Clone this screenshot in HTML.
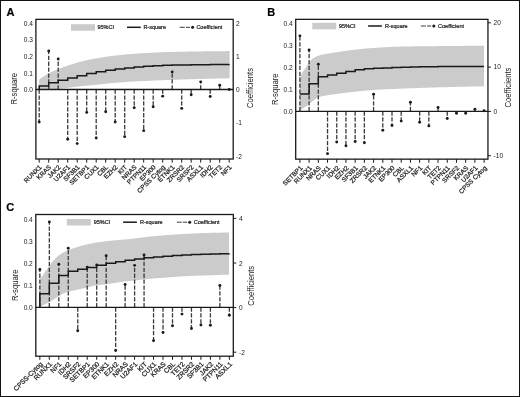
<!DOCTYPE html>
<html><head><meta charset="utf-8"><style>
html,body{margin:0;padding:0;background:#fff;}
svg{display:block;will-change:transform;}
text{font-family:"Liberation Sans", sans-serif;stroke:#222;stroke-width:0.22px;}
.t{stroke:none;}
.g{stroke:#222;stroke-width:0.24px;}
</style></head><body>
<svg width="520" height="397" viewBox="0 0 520 397" font-family='&quot;Liberation Sans&quot;, sans-serif'>
<rect x="0" y="0" width="520" height="397" fill="#fff"/>
<path d="M39.2,79.5 L39.69,79.17 L40.18,78.84 L40.66,78.5 L41.15,78.16 L41.64,77.82 L42.13,77.48 L42.62,77.14 L43.11,76.8 L43.59,76.46 L44.08,76.12 L44.57,75.79 L45.06,75.47 L45.55,75.16 L46.04,74.85 L46.52,74.56 L47.01,74.27 L47.5,74 L48,73.73 L48.5,73.47 L49,73.21 L49.5,72.96 L50,72.71 L50.5,72.46 L51,72.22 L51.5,71.99 L52,71.75 L52.5,71.53 L53,71.3 L53.5,71.08 L54,70.86 L54.5,70.65 L55,70.43 L55.5,70.22 L56,70.01 L56.5,69.81 L57,69.6 L57.5,69.4 L58,69.2 L58.5,69 L59,68.8 L59.5,68.6 L60.01,68.4 L60.51,68.21 L61.02,68.02 L61.52,67.83 L62.03,67.64 L62.53,67.45 L63.03,67.27 L63.54,67.09 L64.04,66.91 L64.55,66.73 L65.05,66.55 L65.56,66.38 L66.06,66.2 L66.57,66.03 L67.07,65.86 L67.57,65.69 L68.08,65.52 L68.58,65.36 L69.09,65.19 L69.59,65.03 L70.1,64.86 L70.6,64.7 L71.1,64.54 L71.6,64.38 L72.1,64.22 L72.6,64.06 L73.1,63.9 L73.6,63.74 L74.1,63.58 L74.6,63.43 L75.1,63.27 L75.6,63.12 L76.1,62.97 L76.6,62.82 L77.1,62.67 L77.6,62.52 L78.1,62.37 L78.6,62.23 L79.1,62.09 L79.6,61.95 L80.1,61.82 L80.6,61.68 L81.1,61.55 L81.6,61.42 L82.1,61.3 L82.6,61.18 L83.09,61.06 L83.59,60.94 L84.09,60.82 L84.58,60.71 L85.08,60.59 L85.57,60.48 L86.07,60.37 L86.57,60.26 L87.06,60.15 L87.56,60.04 L88.06,59.93 L88.55,59.83 L89.05,59.73 L89.55,59.62 L90.04,59.52 L90.54,59.42 L91.04,59.32 L91.53,59.23 L92.03,59.13 L92.53,59.03 L93.02,58.94 L93.52,58.85 L94.01,58.76 L94.51,58.66 L95.01,58.58 L95.5,58.49 L96,58.4 L96.5,58.31 L97,58.23 L97.5,58.14 L98,58.06 L98.5,57.97 L99,57.89 L99.5,57.8 L100,57.72 L100.5,57.64 L101,57.56 L101.5,57.47 L102,57.39 L102.5,57.31 L103,57.23 L103.5,57.16 L104,57.08 L104.5,57 L105,56.93 L105.5,56.85 L106,56.78 L106.5,56.7 L107,56.63 L107.5,56.56 L108,56.49 L108.5,56.42 L109,56.35 L109.5,56.28 L110,56.21 L110.5,56.15 L111,56.08 L111.5,56.02 L112,55.96 L112.5,55.89 L113,55.83 L113.5,55.77 L114,55.71 L114.5,55.66 L115,55.6 L115.5,55.54 L116,55.49 L116.5,55.43 L117,55.38 L117.5,55.33 L118,55.27 L118.5,55.22 L119,55.17 L119.5,55.12 L120,55.06 L120.5,55.01 L121,54.96 L121.5,54.91 L122,54.86 L122.5,54.81 L123,54.76 L123.5,54.71 L124,54.67 L124.5,54.62 L125,54.57 L125.5,54.53 L126,54.48 L126.5,54.43 L127,54.39 L127.5,54.34 L128,54.3 L128.5,54.26 L129,54.21 L129.5,54.17 L130,54.13 L130.5,54.09 L131,54.05 L131.5,54.01 L132,53.97 L132.5,53.93 L133,53.89 L133.5,53.85 L134,53.81 L134.5,53.77 L135,53.74 L135.5,53.7 L136,53.66 L136.5,53.63 L137,53.6 L137.5,53.56 L138,53.53 L138.5,53.49 L139,53.46 L139.5,53.43 L140,53.4 L140.5,53.37 L141,53.34 L141.5,53.31 L142,53.28 L142.5,53.25 L143,53.22 L143.5,53.19 L144,53.16 L144.5,53.13 L145,53.1 L145.5,53.07 L146,53.04 L146.5,53.02 L147,52.99 L147.5,52.96 L148,52.93 L148.5,52.91 L149,52.88 L149.5,52.85 L150,52.83 L150.5,52.8 L151,52.77 L151.5,52.75 L152,52.72 L152.5,52.7 L153,52.67 L153.5,52.65 L154,52.62 L154.5,52.6 L155,52.57 L155.5,52.55 L156,52.53 L156.5,52.5 L157,52.48 L157.5,52.46 L158,52.44 L158.5,52.41 L159,52.39 L159.5,52.37 L160,52.35 L160.5,52.33 L161,52.31 L161.5,52.29 L162,52.27 L162.5,52.25 L163,52.23 L163.5,52.21 L164,52.19 L164.5,52.18 L165,52.16 L165.5,52.14 L166,52.12 L166.5,52.11 L167,52.09 L167.5,52.07 L168,52.06 L168.5,52.04 L169,52.03 L169.5,52.01 L170,52 L170.5,51.99 L171,51.97 L171.5,51.96 L172,51.95 L172.5,51.93 L173,51.92 L173.5,51.91 L174,51.89 L174.5,51.88 L175,51.87 L175.5,51.86 L176,51.84 L176.5,51.83 L177,51.82 L177.5,51.81 L178,51.8 L178.5,51.78 L179,51.77 L179.5,51.76 L180,51.75 L180.5,51.74 L181,51.73 L181.5,51.72 L182,51.71 L182.5,51.7 L183,51.69 L183.5,51.68 L184,51.67 L184.5,51.66 L185,51.65 L185.5,51.64 L186,51.63 L186.5,51.62 L187,51.61 L187.5,51.6 L188,51.59 L188.5,51.58 L189,51.57 L189.5,51.56 L190,51.55 L190.5,51.54 L191,51.54 L191.5,51.53 L192,51.52 L192.5,51.51 L193,51.5 L193.5,51.5 L194,51.49 L194.5,51.48 L195,51.47 L195.5,51.46 L196,51.46 L196.5,51.45 L197,51.44 L197.5,51.43 L198,51.43 L198.5,51.42 L199,51.41 L199.5,51.41 L200,51.4 L200.5,51.39 L201,51.39 L201.51,51.38 L202.01,51.37 L202.51,51.37 L203.01,51.36 L203.51,51.36 L204.01,51.35 L204.52,51.34 L205.02,51.34 L205.52,51.33 L206.02,51.33 L206.52,51.32 L207.02,51.32 L207.53,51.31 L208.03,51.3 L208.53,51.3 L209.03,51.29 L209.53,51.29 L210.03,51.28 L210.54,51.28 L211.04,51.27 L211.54,51.27 L212.04,51.26 L212.54,51.26 L213.04,51.25 L213.55,51.25 L214.05,51.24 L214.55,51.24 L215.05,51.24 L215.55,51.23 L216.05,51.23 L216.56,51.22 L217.06,51.22 L217.56,51.21 L218.06,51.21 L218.56,51.2 L219.06,51.2 L219.57,51.19 L220.07,51.19 L220.57,51.19 L221.07,51.18 L221.57,51.18 L222.07,51.17 L222.58,51.17 L223.08,51.16 L223.58,51.16 L224.08,51.15 L224.58,51.15 L225.08,51.14 L225.59,51.14 L226.09,51.13 L226.59,51.13 L227.09,51.12 L227.59,51.12 L228.09,51.12 L228.6,51.11 L229.1,51.11 L229.6,51.1 L229.6,78.3 L229.1,78.31 L228.6,78.32 L228.1,78.33 L227.59,78.35 L227.09,78.36 L226.59,78.37 L226.09,78.38 L225.59,78.39 L225.09,78.4 L224.59,78.41 L224.08,78.42 L223.58,78.44 L223.08,78.45 L222.58,78.46 L222.08,78.47 L221.58,78.48 L221.08,78.49 L220.57,78.5 L220.07,78.51 L219.57,78.52 L219.07,78.53 L218.57,78.54 L218.07,78.56 L217.57,78.57 L217.06,78.58 L216.56,78.59 L216.06,78.6 L215.56,78.61 L215.06,78.62 L214.56,78.63 L214.06,78.64 L213.55,78.65 L213.05,78.66 L212.55,78.68 L212.05,78.69 L211.55,78.7 L211.05,78.71 L210.54,78.72 L210.04,78.73 L209.54,78.74 L209.04,78.75 L208.54,78.76 L208.04,78.78 L207.54,78.79 L207.03,78.8 L206.53,78.81 L206.03,78.82 L205.53,78.83 L205.03,78.85 L204.53,78.86 L204.03,78.87 L203.52,78.88 L203.02,78.89 L202.52,78.91 L202.02,78.92 L201.52,78.93 L201.02,78.94 L200.52,78.95 L200.01,78.97 L199.51,78.98 L199.01,78.99 L198.51,79.01 L198.01,79.02 L197.51,79.03 L197.01,79.05 L196.5,79.06 L196,79.07 L195.5,79.09 L195,79.1 L194.5,79.11 L194,79.13 L193.5,79.14 L193,79.16 L192.5,79.17 L192,79.18 L191.5,79.2 L191,79.21 L190.5,79.23 L190,79.24 L189.5,79.26 L189,79.27 L188.5,79.29 L188,79.3 L187.5,79.32 L187,79.34 L186.5,79.35 L186,79.37 L185.5,79.38 L185,79.4 L184.5,79.41 L184,79.43 L183.5,79.45 L183,79.46 L182.5,79.48 L182,79.5 L181.5,79.51 L181,79.53 L180.5,79.55 L180,79.56 L179.5,79.58 L179,79.6 L178.5,79.61 L178,79.63 L177.5,79.65 L177,79.67 L176.5,79.68 L176,79.7 L175.5,79.72 L175,79.74 L174.5,79.75 L174,79.77 L173.5,79.79 L173,79.81 L172.5,79.83 L172,79.84 L171.5,79.86 L171,79.88 L170.5,79.9 L170,79.92 L169.5,79.94 L169,79.95 L168.5,79.97 L168,79.99 L167.5,80.01 L167,80.03 L166.5,80.05 L166,80.07 L165.5,80.09 L165,80.11 L164.5,80.12 L164,80.14 L163.5,80.16 L163,80.18 L162.5,80.2 L162,80.22 L161.5,80.24 L161,80.26 L160.5,80.28 L160,80.3 L159.5,80.32 L159,80.34 L158.5,80.36 L158,80.38 L157.5,80.4 L157,80.42 L156.5,80.44 L156,80.46 L155.5,80.48 L155,80.5 L154.5,80.52 L154,80.54 L153.5,80.56 L153,80.59 L152.5,80.61 L152,80.63 L151.5,80.65 L151,80.67 L150.5,80.69 L150,80.72 L149.5,80.74 L149,80.76 L148.5,80.78 L148,80.81 L147.5,80.83 L147,80.85 L146.5,80.88 L146,80.9 L145.5,80.92 L145,80.95 L144.5,80.97 L144,81 L143.5,81.02 L143,81.05 L142.5,81.07 L142,81.1 L141.5,81.12 L141,81.15 L140.5,81.17 L140,81.2 L139.5,81.23 L139,81.25 L138.49,81.28 L137.99,81.31 L137.49,81.34 L136.99,81.36 L136.48,81.39 L135.98,81.42 L135.48,81.45 L134.98,81.48 L134.48,81.51 L133.97,81.54 L133.47,81.57 L132.97,81.59 L132.47,81.62 L131.97,81.66 L131.46,81.69 L130.96,81.72 L130.46,81.75 L129.96,81.78 L129.45,81.81 L128.95,81.84 L128.45,81.87 L127.95,81.91 L127.45,81.94 L126.94,81.97 L126.44,82.01 L125.94,82.04 L125.44,82.07 L124.93,82.11 L124.43,82.14 L123.93,82.18 L123.43,82.21 L122.93,82.25 L122.42,82.28 L121.92,82.32 L121.42,82.36 L120.92,82.39 L120.42,82.43 L119.91,82.47 L119.41,82.51 L118.91,82.54 L118.41,82.58 L117.9,82.62 L117.4,82.66 L116.9,82.7 L116.39,82.74 L115.89,82.78 L115.38,82.82 L114.88,82.87 L114.37,82.91 L113.87,82.96 L113.36,83 L112.86,83.05 L112.35,83.1 L111.85,83.15 L111.34,83.19 L110.84,83.24 L110.33,83.29 L109.83,83.34 L109.32,83.39 L108.82,83.45 L108.31,83.5 L107.81,83.55 L107.3,83.6 L106.79,83.65 L106.29,83.71 L105.78,83.76 L105.28,83.81 L104.77,83.87 L104.27,83.92 L103.76,83.97 L103.26,84.03 L102.75,84.08 L102.25,84.13 L101.74,84.19 L101.24,84.24 L100.73,84.29 L100.23,84.34 L99.72,84.4 L99.22,84.45 L98.71,84.5 L98.21,84.55 L97.7,84.6 L97.19,84.65 L96.69,84.7 L96.18,84.75 L95.68,84.8 L95.17,84.85 L94.67,84.89 L94.16,84.94 L93.66,84.99 L93.15,85.04 L92.65,85.09 L92.14,85.14 L91.64,85.18 L91.13,85.23 L90.63,85.28 L90.12,85.33 L89.62,85.38 L89.11,85.42 L88.61,85.47 L88.1,85.52 L87.59,85.57 L87.09,85.62 L86.58,85.67 L86.08,85.71 L85.57,85.76 L85.07,85.81 L84.56,85.86 L84.06,85.91 L83.55,85.97 L83.05,86.02 L82.54,86.07 L82.04,86.12 L81.53,86.17 L81.03,86.23 L80.52,86.28 L80.02,86.33 L79.51,86.39 L79.01,86.44 L78.5,86.5 L78,86.56 L77.5,86.62 L77,86.68 L76.5,86.74 L76,86.8 L75.5,86.87 L75,86.93 L74.5,87 L74,87.07 L73.5,87.14 L73,87.2 L72.5,87.27 L72,87.34 L71.5,87.41 L71,87.48 L70.5,87.54 L70,87.61 L69.5,87.68 L69,87.74 L68.5,87.81 L68,87.87 L67.5,87.93 L67,87.99 L66.5,88.04 L66,88.1 L65.5,88.15 L65,88.2 L64.5,88.25 L64,88.3 L63.5,88.35 L63,88.4 L62.5,88.45 L62,88.5 L61.5,88.55 L61,88.6 L60.5,88.65 L60,88.69 L59.5,88.74 L59,88.78 L58.5,88.82 L58,88.85 L57.5,88.89 L57,88.92 L56.5,88.94 L56,88.97 L55.5,88.99 L55,89 L54.51,89.01 L54.01,89.02 L53.52,89.03 L53.02,89.04 L52.53,89.05 L52.04,89.06 L51.54,89.07 L51.05,89.07 L50.56,89.08 L50.06,89.09 L49.57,89.09 L49.08,89.1 L48.58,89.1 L48.09,89.11 L47.59,89.12 L47.1,89.12 L46.61,89.13 L46.11,89.13 L45.62,89.13 L45.12,89.14 L44.63,89.14 L44.14,89.15 L43.64,89.15 L43.15,89.16 L42.66,89.16 L42.16,89.17 L41.67,89.17 L41.18,89.18 L40.68,89.18 L40.19,89.19 L39.69,89.19 L39.2,89.2 Z" fill="#cbcbcb"/>
<line x1="39.2" y1="89.5" x2="39.2" y2="122.04" stroke="#3a3a3a" stroke-width="1.3" stroke-dasharray="4.3,1.6"/>
<line x1="48.7" y1="89.5" x2="48.7" y2="50.99" stroke="#3a3a3a" stroke-width="1.3" stroke-dasharray="4.3,1.6"/>
<line x1="58.2" y1="89.5" x2="58.2" y2="58.96" stroke="#3a3a3a" stroke-width="1.3" stroke-dasharray="4.3,1.6"/>
<line x1="67.7" y1="89.5" x2="67.7" y2="139.3" stroke="#3a3a3a" stroke-width="1.3" stroke-dasharray="4.3,1.6"/>
<line x1="77.2" y1="89.5" x2="77.2" y2="143.62" stroke="#3a3a3a" stroke-width="1.3" stroke-dasharray="4.3,1.6"/>
<line x1="86.7" y1="89.5" x2="86.7" y2="112.41" stroke="#3a3a3a" stroke-width="1.3" stroke-dasharray="4.3,1.6"/>
<line x1="96.2" y1="89.5" x2="96.2" y2="137.97" stroke="#3a3a3a" stroke-width="1.3" stroke-dasharray="4.3,1.6"/>
<line x1="105.7" y1="89.5" x2="105.7" y2="111.74" stroke="#3a3a3a" stroke-width="1.3" stroke-dasharray="4.3,1.6"/>
<line x1="115.2" y1="89.5" x2="115.2" y2="122.04" stroke="#3a3a3a" stroke-width="1.3" stroke-dasharray="4.3,1.6"/>
<line x1="124.7" y1="89.5" x2="124.7" y2="136.64" stroke="#3a3a3a" stroke-width="1.3" stroke-dasharray="4.3,1.6"/>
<line x1="134.2" y1="89.5" x2="134.2" y2="107.76" stroke="#3a3a3a" stroke-width="1.3" stroke-dasharray="4.3,1.6"/>
<line x1="143.7" y1="89.5" x2="143.7" y2="130.67" stroke="#3a3a3a" stroke-width="1.3" stroke-dasharray="4.3,1.6"/>
<line x1="153.2" y1="89.5" x2="153.2" y2="106.76" stroke="#3a3a3a" stroke-width="1.3" stroke-dasharray="4.3,1.6"/>
<line x1="162.7" y1="89.5" x2="162.7" y2="96.14" stroke="#3a3a3a" stroke-width="1.3" stroke-dasharray="4.3,1.6"/>
<line x1="172.2" y1="89.5" x2="172.2" y2="71.9" stroke="#3a3a3a" stroke-width="1.3" stroke-dasharray="4.3,1.6"/>
<line x1="181.7" y1="89.5" x2="181.7" y2="108.42" stroke="#3a3a3a" stroke-width="1.3" stroke-dasharray="4.3,1.6"/>
<line x1="191.2" y1="89.5" x2="191.2" y2="94.81" stroke="#3a3a3a" stroke-width="1.3" stroke-dasharray="4.3,1.6"/>
<line x1="200.7" y1="89.5" x2="200.7" y2="81.86" stroke="#3a3a3a" stroke-width="1.3" stroke-dasharray="4.3,1.6"/>
<line x1="210.2" y1="89.5" x2="210.2" y2="96.47" stroke="#3a3a3a" stroke-width="1.3" stroke-dasharray="4.3,1.6"/>
<line x1="219.7" y1="89.5" x2="219.7" y2="85.18" stroke="#3a3a3a" stroke-width="1.3" stroke-dasharray="4.3,1.6"/>
<line x1="229.2" y1="89.5" x2="229.2" y2="89.5" stroke="#3a3a3a" stroke-width="1.3" stroke-dasharray="4.3,1.6"/>
<circle cx="39.2" cy="122.04" r="1.45" fill="#1a1a1a"/>
<circle cx="48.7" cy="50.99" r="1.45" fill="#1a1a1a"/>
<circle cx="58.2" cy="58.96" r="1.45" fill="#1a1a1a"/>
<circle cx="67.7" cy="139.3" r="1.45" fill="#1a1a1a"/>
<circle cx="77.2" cy="143.62" r="1.45" fill="#1a1a1a"/>
<circle cx="86.7" cy="112.41" r="1.45" fill="#1a1a1a"/>
<circle cx="96.2" cy="137.97" r="1.45" fill="#1a1a1a"/>
<circle cx="105.7" cy="111.74" r="1.45" fill="#1a1a1a"/>
<circle cx="115.2" cy="122.04" r="1.45" fill="#1a1a1a"/>
<circle cx="124.7" cy="136.64" r="1.45" fill="#1a1a1a"/>
<circle cx="134.2" cy="107.76" r="1.45" fill="#1a1a1a"/>
<circle cx="143.7" cy="130.67" r="1.45" fill="#1a1a1a"/>
<circle cx="153.2" cy="106.76" r="1.45" fill="#1a1a1a"/>
<circle cx="162.7" cy="96.14" r="1.45" fill="#1a1a1a"/>
<circle cx="172.2" cy="71.9" r="1.45" fill="#1a1a1a"/>
<circle cx="181.7" cy="108.42" r="1.45" fill="#1a1a1a"/>
<circle cx="191.2" cy="94.81" r="1.45" fill="#1a1a1a"/>
<circle cx="200.7" cy="81.86" r="1.45" fill="#1a1a1a"/>
<circle cx="210.2" cy="96.47" r="1.45" fill="#1a1a1a"/>
<circle cx="219.7" cy="85.18" r="1.45" fill="#1a1a1a"/>
<circle cx="229.2" cy="89.5" r="1.45" fill="#1a1a1a"/>
<line x1="35.9" y1="89.5" x2="233.2" y2="89.5" stroke="#1a1a1a" stroke-width="1.3"/>
<path d="M39.2,89.5 L39.2,85.9 L48.7,85.9 L48.7,82.7 L58.2,82.7 L58.2,80.3 L67.7,80.3 L67.7,77.95 L77.2,77.95 L77.2,75.75 L86.7,75.75 L86.7,73.4 L96.2,73.4 L96.2,71.7 L105.7,71.7 L105.7,70.2 L115.2,70.2 L115.2,68.9 L124.7,68.9 L124.7,67.9 L134.2,67.9 L134.2,67 L143.7,67 L143.7,66.3 L153.2,66.3 L153.2,65.7 L162.7,65.7 L162.7,65.2 L172.2,65.2 L172.2,65 L181.7,65 L181.7,64.9 L191.2,64.9 L191.2,64.8 L200.7,64.8 L200.7,64.7 L210.2,64.7 L210.2,64.6 L219.7,64.6 L219.7,64.6 L229.2,64.6 L229.2,64.5 L229.2,64.5" fill="none" stroke="#1a1a1a" stroke-width="1.5" stroke-linejoin="miter" stroke-linecap="butt"/>
<rect x="35.9" y="19.35" width="197.3" height="139.65" fill="none" stroke="#1a1a1a" stroke-width="1.3"/>
<line x1="39.2" y1="159" x2="39.2" y2="162.6" stroke="#1a1a1a" stroke-width="1"/>
<line x1="48.7" y1="159" x2="48.7" y2="162.6" stroke="#1a1a1a" stroke-width="1"/>
<line x1="58.2" y1="159" x2="58.2" y2="162.6" stroke="#1a1a1a" stroke-width="1"/>
<line x1="67.7" y1="159" x2="67.7" y2="162.6" stroke="#1a1a1a" stroke-width="1"/>
<line x1="77.2" y1="159" x2="77.2" y2="162.6" stroke="#1a1a1a" stroke-width="1"/>
<line x1="86.7" y1="159" x2="86.7" y2="162.6" stroke="#1a1a1a" stroke-width="1"/>
<line x1="96.2" y1="159" x2="96.2" y2="162.6" stroke="#1a1a1a" stroke-width="1"/>
<line x1="105.7" y1="159" x2="105.7" y2="162.6" stroke="#1a1a1a" stroke-width="1"/>
<line x1="115.2" y1="159" x2="115.2" y2="162.6" stroke="#1a1a1a" stroke-width="1"/>
<line x1="124.7" y1="159" x2="124.7" y2="162.6" stroke="#1a1a1a" stroke-width="1"/>
<line x1="134.2" y1="159" x2="134.2" y2="162.6" stroke="#1a1a1a" stroke-width="1"/>
<line x1="143.7" y1="159" x2="143.7" y2="162.6" stroke="#1a1a1a" stroke-width="1"/>
<line x1="153.2" y1="159" x2="153.2" y2="162.6" stroke="#1a1a1a" stroke-width="1"/>
<line x1="162.7" y1="159" x2="162.7" y2="162.6" stroke="#1a1a1a" stroke-width="1"/>
<line x1="172.2" y1="159" x2="172.2" y2="162.6" stroke="#1a1a1a" stroke-width="1"/>
<line x1="181.7" y1="159" x2="181.7" y2="162.6" stroke="#1a1a1a" stroke-width="1"/>
<line x1="191.2" y1="159" x2="191.2" y2="162.6" stroke="#1a1a1a" stroke-width="1"/>
<line x1="200.7" y1="159" x2="200.7" y2="162.6" stroke="#1a1a1a" stroke-width="1"/>
<line x1="210.2" y1="159" x2="210.2" y2="162.6" stroke="#1a1a1a" stroke-width="1"/>
<line x1="219.7" y1="159" x2="219.7" y2="162.6" stroke="#1a1a1a" stroke-width="1"/>
<line x1="229.2" y1="159" x2="229.2" y2="162.6" stroke="#1a1a1a" stroke-width="1"/>
<text x="32.9" y="92.28" font-size="6.6" class="t" text-anchor="end" fill="#222">0.0</text>
<text x="32.9" y="75.68" font-size="6.6" class="t" text-anchor="end" fill="#222">0.1</text>
<text x="32.9" y="59.08" font-size="6.6" class="t" text-anchor="end" fill="#222">0.2</text>
<text x="32.9" y="42.48" font-size="6.6" class="t" text-anchor="end" fill="#222">0.3</text>
<text x="32.9" y="25.88" font-size="6.6" class="t" text-anchor="end" fill="#222">0.4</text>
<text x="236" y="25.78" font-size="6.6" class="t" fill="#222">2</text>
<text x="236" y="58.98" font-size="6.6" class="t" fill="#222">1</text>
<text x="236" y="92.18" font-size="6.6" class="t" fill="#222">0</text>
<text x="236" y="125.38" font-size="6.6" class="t" fill="#222">-1</text>
<text x="236" y="158.58" font-size="6.6" class="t" fill="#222">-2</text>
<text x="0" y="0" font-size="7.7" text-anchor="middle" class="t" fill="#222" transform="translate(17.2,88.7) rotate(-90) scale(1.0,1.12)">R-square</text>
<text x="0" y="0" font-size="7.7" text-anchor="middle" class="t" fill="#222" transform="translate(253,88) rotate(-90) scale(1.0,1.12)">Coefficients</text>
<text x="6.5" y="15.8" font-size="11" font-weight="bold" fill="#000">A</text>
<rect x="71" y="24.2" width="24" height="6.5" fill="#cbcbcb"/>
<text x="97.5" y="29.28" font-size="5.5" fill="#222">95%CI</text>
<line x1="127" y1="27.3" x2="140.8" y2="27.3" stroke="#1a1a1a" stroke-width="1.5"/>
<text x="143.4" y="29.28" font-size="5.5" fill="#222">R-square</text>
<line x1="179.7" y1="27.3" x2="190" y2="27.3" stroke="#3a3a3a" stroke-width="1" stroke-dasharray="5,1.1"/>
<circle cx="192.6" cy="27.3" r="1.5" fill="#1a1a1a"/>
<text x="196.4" y="29.28" font-size="5.5" fill="#222">Coefficient</text>
<text x="0" y="0" font-size="6.5" class="g" text-anchor="end" fill="#222" transform="translate(42.1,167.6) rotate(-45)">RUNX1</text>
<text x="0" y="0" font-size="6.5" class="g" text-anchor="end" fill="#222" transform="translate(51.6,167.6) rotate(-45)">KRAS</text>
<text x="0" y="0" font-size="6.5" class="g" text-anchor="end" fill="#222" transform="translate(61.1,167.6) rotate(-45)">JAK2</text>
<text x="0" y="0" font-size="6.5" class="g" text-anchor="end" fill="#222" transform="translate(70.6,167.6) rotate(-45)">U2AF1</text>
<text x="0" y="0" font-size="6.5" class="g" text-anchor="end" fill="#222" transform="translate(80.1,167.6) rotate(-45)">SF3B1</text>
<text x="0" y="0" font-size="6.5" class="g" text-anchor="end" fill="#222" transform="translate(89.6,167.6) rotate(-45)">SETBP1</text>
<text x="0" y="0" font-size="6.5" class="g" text-anchor="end" fill="#222" transform="translate(99.1,167.6) rotate(-45)">CUX1</text>
<text x="0" y="0" font-size="6.5" class="g" text-anchor="end" fill="#222" transform="translate(108.6,167.6) rotate(-45)">CBL</text>
<text x="0" y="0" font-size="6.5" class="g" text-anchor="end" fill="#222" transform="translate(118.1,167.6) rotate(-45)">EZH2</text>
<text x="0" y="0" font-size="6.5" class="g" text-anchor="end" fill="#222" transform="translate(127.6,167.6) rotate(-45)">KIT</text>
<text x="0" y="0" font-size="6.5" class="g" text-anchor="end" fill="#222" transform="translate(137.1,167.6) rotate(-45)">NRAS</text>
<text x="0" y="0" font-size="6.5" class="g" text-anchor="end" fill="#222" transform="translate(146.6,167.6) rotate(-45)">PTPN11</text>
<text x="0" y="0" font-size="6.5" class="g" text-anchor="end" fill="#222" transform="translate(156.1,167.6) rotate(-45)">EP300</text>
<text x="0" y="0" font-size="6.5" class="g" text-anchor="end" fill="#222" transform="translate(165.6,167.6) rotate(-45)">CPSS Cytog</text>
<text x="0" y="0" font-size="6.5" class="g" text-anchor="end" fill="#222" transform="translate(175.1,167.6) rotate(-45)">ETNK1</text>
<text x="0" y="0" font-size="6.5" class="g" text-anchor="end" fill="#222" transform="translate(184.6,167.6) rotate(-45)">ZRSR2</text>
<text x="0" y="0" font-size="6.5" class="g" text-anchor="end" fill="#222" transform="translate(194.1,167.6) rotate(-45)">SRSF2</text>
<text x="0" y="0" font-size="6.5" class="g" text-anchor="end" fill="#222" transform="translate(203.6,167.6) rotate(-45)">ASXL1</text>
<text x="0" y="0" font-size="6.5" class="g" text-anchor="end" fill="#222" transform="translate(213.1,167.6) rotate(-45)">IDH2</text>
<text x="0" y="0" font-size="6.5" class="g" text-anchor="end" fill="#222" transform="translate(222.6,167.6) rotate(-45)">TET2</text>
<text x="0" y="0" font-size="6.5" class="g" text-anchor="end" fill="#222" transform="translate(232.1,167.6) rotate(-45)">NF1</text>
<path d="M299.9,77.5 L300.42,76.39 L300.95,75.27 L301.48,74.18 L302,73.2 L302.51,72.35 L303.02,71.56 L303.54,70.82 L304.05,70.1 L304.56,69.4 L305.08,68.7 L305.59,67.97 L306.1,67.2 L306.6,66.39 L307.1,65.53 L307.6,64.65 L308.1,63.8 L308.6,63 L309.1,62.3 L309.6,61.67 L310.1,61.07 L310.6,60.51 L311.1,59.99 L311.6,59.52 L312.1,59.1 L312.61,58.71 L313.12,58.34 L313.64,58 L314.15,57.67 L314.66,57.37 L315.18,57.09 L315.69,56.84 L316.2,56.6 L316.7,56.39 L317.2,56.18 L317.7,55.99 L318.2,55.81 L318.7,55.63 L319.2,55.47 L319.7,55.31 L320.2,55.17 L320.7,55.03 L321.2,54.9 L321.7,54.78 L322.2,54.66 L322.7,54.56 L323.2,54.45 L323.7,54.36 L324.2,54.26 L324.7,54.17 L325.2,54.08 L325.7,53.99 L326.2,53.9 L326.69,53.81 L327.18,53.72 L327.67,53.64 L328.16,53.55 L328.65,53.47 L329.14,53.39 L329.63,53.31 L330.12,53.22 L330.61,53.14 L331.1,53.06 L331.59,52.99 L332.08,52.91 L332.57,52.83 L333.06,52.75 L333.55,52.68 L334.04,52.6 L334.53,52.53 L335.02,52.45 L335.51,52.38 L336,52.3 L336.5,52.22 L337,52.15 L337.5,52.07 L338,51.99 L338.5,51.92 L339,51.84 L339.5,51.77 L340,51.69 L340.5,51.62 L341,51.54 L341.5,51.47 L342,51.39 L342.5,51.32 L343,51.25 L343.5,51.17 L344,51.1 L344.5,51.03 L345,50.96 L345.5,50.89 L346,50.82 L346.5,50.75 L347,50.69 L347.5,50.62 L348,50.55 L348.5,50.49 L349,50.42 L349.5,50.36 L350,50.3 L350.5,50.24 L351,50.18 L351.5,50.12 L352,50.06 L352.5,50 L353,49.94 L353.5,49.88 L354,49.82 L354.5,49.76 L355,49.7 L355.5,49.64 L356,49.58 L356.5,49.52 L357,49.46 L357.5,49.4 L358,49.35 L358.5,49.29 L359,49.24 L359.5,49.18 L360,49.13 L360.5,49.07 L361,49.02 L361.5,48.97 L362,48.91 L362.5,48.86 L363,48.81 L363.5,48.76 L364,48.71 L364.5,48.66 L365,48.62 L365.5,48.57 L366,48.53 L366.5,48.48 L367,48.44 L367.5,48.4 L368,48.35 L368.5,48.31 L369,48.27 L369.5,48.24 L370,48.2 L370.5,48.16 L371,48.13 L371.5,48.09 L372,48.06 L372.5,48.02 L373,47.99 L373.5,47.95 L374,47.91 L374.5,47.88 L375,47.84 L375.5,47.81 L376,47.78 L376.5,47.74 L377,47.71 L377.5,47.67 L378,47.64 L378.5,47.61 L379,47.57 L379.5,47.54 L380,47.51 L380.5,47.48 L381,47.45 L381.5,47.41 L382,47.38 L382.5,47.35 L383,47.32 L383.5,47.29 L384,47.26 L384.5,47.23 L385,47.21 L385.5,47.18 L386,47.15 L386.5,47.12 L387,47.1 L387.5,47.07 L388,47.04 L388.5,47.02 L389,46.99 L389.5,46.97 L390,46.95 L390.5,46.92 L391,46.9 L391.5,46.88 L392,46.86 L392.5,46.84 L393,46.82 L393.5,46.8 L394,46.78 L394.5,46.76 L395,46.74 L395.5,46.72 L396,46.71 L396.5,46.69 L397,46.68 L397.5,46.66 L398,46.65 L398.5,46.63 L399,46.62 L399.5,46.61 L400,46.6 L400.5,46.59 L401,46.58 L401.5,46.57 L402,46.56 L402.5,46.55 L403,46.54 L403.5,46.53 L404,46.52 L404.5,46.51 L405,46.5 L405.5,46.5 L406,46.49 L406.5,46.48 L407,46.47 L407.5,46.46 L408,46.45 L408.5,46.44 L409,46.44 L409.5,46.43 L410,46.42 L410.5,46.41 L411,46.41 L411.5,46.4 L412,46.39 L412.5,46.38 L413,46.38 L413.5,46.37 L414,46.36 L414.5,46.36 L415,46.35 L415.5,46.34 L416,46.34 L416.5,46.33 L417,46.32 L417.5,46.32 L418,46.31 L418.5,46.31 L419,46.3 L419.5,46.29 L420,46.29 L420.5,46.28 L421,46.28 L421.5,46.27 L422,46.27 L422.5,46.26 L423,46.25 L423.5,46.25 L424,46.24 L424.5,46.24 L425,46.23 L425.5,46.23 L426,46.22 L426.5,46.22 L427,46.21 L427.5,46.21 L428,46.2 L428.5,46.2 L429,46.19 L429.5,46.19 L430,46.18 L430.5,46.18 L431,46.18 L431.5,46.17 L432,46.17 L432.5,46.16 L433,46.16 L433.5,46.15 L434,46.15 L434.5,46.14 L435,46.14 L435.5,46.13 L436,46.13 L436.5,46.13 L437,46.12 L437.5,46.12 L438,46.11 L438.5,46.11 L439,46.1 L439.5,46.1 L440,46.09 L440.5,46.09 L441,46.08 L441.5,46.08 L442,46.08 L442.5,46.07 L443,46.07 L443.5,46.06 L444,46.06 L444.5,46.05 L445,46.05 L445.5,46.04 L446,46.04 L446.5,46.03 L447,46.03 L447.5,46.02 L448,46.02 L448.5,46.01 L449,46.01 L449.5,46.01 L450,46 L450.5,45.99 L451,45.99 L451.5,45.99 L452,45.98 L452.5,45.98 L453,45.97 L453.5,45.97 L454,45.96 L454.5,45.96 L455,45.95 L455.5,45.95 L456,45.94 L456.5,45.94 L457,45.93 L457.5,45.93 L458,45.92 L458.5,45.92 L459,45.91 L459.5,45.91 L460,45.91 L460.5,45.9 L461,45.9 L461.5,45.89 L462,45.89 L462.5,45.88 L463,45.88 L463.5,45.87 L464,45.87 L464.5,45.87 L465,45.86 L465.5,45.86 L466,45.85 L466.5,45.85 L467,45.84 L467.5,45.84 L468,45.84 L468.5,45.83 L469,45.83 L469.5,45.82 L470,45.82 L470.5,45.82 L471,45.81 L471.5,45.81 L472,45.8 L472.5,45.8 L473,45.79 L473.5,45.79 L474,45.79 L474.5,45.78 L475,45.78 L475.5,45.77 L476,45.77 L476.5,45.76 L477,45.76 L477.5,45.76 L478,45.75 L478.5,45.75 L479,45.74 L479.5,45.74 L480,45.73 L480.5,45.73 L481,45.73 L481.5,45.72 L482,45.72 L482.5,45.71 L483,45.71 L483.5,45.7 L484,45.7 L484,86.3 L483.5,86.31 L483,86.32 L482.5,86.33 L482,86.35 L481.5,86.36 L481,86.37 L480.5,86.38 L480,86.39 L479.5,86.4 L479,86.41 L478.5,86.42 L478,86.43 L477.5,86.44 L477,86.45 L476.5,86.47 L476,86.48 L475.5,86.49 L475,86.5 L474.5,86.51 L474,86.52 L473.5,86.53 L473,86.54 L472.5,86.55 L472,86.56 L471.5,86.57 L471,86.58 L470.5,86.59 L470,86.6 L469.5,86.61 L469,86.62 L468.5,86.63 L468,86.65 L467.5,86.66 L467,86.67 L466.5,86.68 L466,86.69 L465.5,86.7 L465,86.71 L464.5,86.72 L464,86.73 L463.5,86.74 L463,86.75 L462.5,86.76 L462,86.77 L461.5,86.78 L461,86.79 L460.5,86.81 L460,86.82 L459.5,86.83 L459,86.84 L458.5,86.85 L458,86.86 L457.5,86.87 L457,86.88 L456.5,86.89 L456,86.9 L455.5,86.92 L455,86.93 L454.5,86.94 L454,86.95 L453.5,86.96 L453,86.97 L452.5,86.98 L452,87 L451.5,87.01 L451,87.02 L450.5,87.03 L450,87.04 L449.5,87.06 L449,87.07 L448.5,87.08 L448,87.09 L447.5,87.1 L447,87.12 L446.5,87.13 L446,87.14 L445.5,87.15 L445,87.17 L444.5,87.18 L444,87.19 L443.5,87.21 L443,87.22 L442.5,87.23 L442,87.25 L441.5,87.26 L441,87.27 L440.5,87.29 L440,87.3 L439.5,87.31 L439,87.33 L438.5,87.34 L438,87.36 L437.5,87.37 L437,87.39 L436.5,87.4 L436,87.41 L435.5,87.43 L435,87.44 L434.5,87.46 L434,87.47 L433.5,87.49 L433,87.51 L432.5,87.52 L432,87.54 L431.5,87.55 L431,87.57 L430.5,87.58 L430,87.6 L429.5,87.62 L429,87.63 L428.5,87.65 L428,87.66 L427.5,87.68 L427,87.7 L426.5,87.71 L426,87.73 L425.5,87.75 L425,87.76 L424.5,87.78 L424,87.8 L423.5,87.82 L423,87.83 L422.5,87.85 L422,87.87 L421.5,87.89 L421,87.9 L420.5,87.92 L420,87.94 L419.5,87.96 L419,87.97 L418.5,87.99 L418,88.01 L417.5,88.03 L417,88.05 L416.5,88.07 L416,88.08 L415.5,88.1 L415,88.12 L414.5,88.14 L414,88.16 L413.5,88.18 L413,88.19 L412.5,88.21 L412,88.23 L411.5,88.25 L411,88.27 L410.5,88.29 L410,88.31 L409.5,88.33 L409,88.35 L408.5,88.37 L408,88.39 L407.5,88.4 L407,88.42 L406.5,88.44 L406,88.46 L405.5,88.48 L405,88.5 L404.5,88.52 L404,88.54 L403.5,88.56 L403,88.58 L402.5,88.6 L402,88.62 L401.5,88.64 L401,88.66 L400.5,88.68 L400,88.7 L399.5,88.72 L399,88.74 L398.5,88.76 L398,88.78 L397.5,88.8 L397,88.82 L396.5,88.84 L396,88.86 L395.5,88.88 L395,88.9 L394.5,88.92 L394,88.94 L393.5,88.96 L393,88.98 L392.5,89 L392,89.02 L391.5,89.04 L391,89.06 L390.5,89.08 L390,89.11 L389.5,89.13 L389,89.15 L388.5,89.17 L388,89.19 L387.5,89.22 L387,89.24 L386.5,89.26 L386,89.29 L385.5,89.31 L385,89.33 L384.5,89.36 L384,89.38 L383.5,89.41 L383,89.44 L382.5,89.46 L382,89.49 L381.5,89.52 L381,89.54 L380.5,89.57 L380,89.6 L379.5,89.63 L379,89.66 L378.5,89.69 L378,89.72 L377.5,89.75 L377,89.79 L376.5,89.82 L376,89.85 L375.5,89.89 L375,89.92 L374.5,89.96 L374,90 L373.5,90.03 L373,90.07 L372.5,90.11 L372,90.15 L371.5,90.19 L371,90.23 L370.5,90.27 L370,90.31 L369.5,90.35 L369,90.39 L368.5,90.43 L368,90.48 L367.5,90.52 L367,90.56 L366.5,90.61 L366,90.65 L365.5,90.69 L365,90.74 L364.5,90.78 L364,90.83 L363.5,90.87 L363,90.92 L362.5,90.97 L362,91.01 L361.5,91.06 L361,91.11 L360.5,91.15 L360,91.2 L359.5,91.25 L359,91.3 L358.5,91.34 L358,91.39 L357.5,91.44 L357,91.49 L356.5,91.55 L356,91.6 L355.5,91.65 L355,91.7 L354.5,91.76 L354,91.81 L353.5,91.87 L353,91.92 L352.5,91.98 L352,92.03 L351.5,92.09 L351,92.15 L350.5,92.2 L350,92.26 L349.5,92.32 L349,92.38 L348.5,92.44 L348,92.5 L347.5,92.56 L347,92.62 L346.5,92.68 L346,92.74 L345.5,92.8 L345,92.86 L344.5,92.93 L344,92.99 L343.5,93.05 L343,93.12 L342.5,93.18 L342,93.24 L341.5,93.31 L341,93.37 L340.5,93.44 L340,93.5 L339.5,93.56 L339,93.63 L338.5,93.69 L338,93.76 L337.5,93.82 L337,93.89 L336.5,93.95 L336,94.01 L335.5,94.08 L335,94.14 L334.5,94.21 L334,94.28 L333.5,94.34 L333,94.41 L332.5,94.48 L332,94.55 L331.5,94.62 L331,94.7 L330.5,94.77 L330,94.85 L329.5,94.92 L329,95 L328.5,95.08 L328,95.16 L327.5,95.25 L327,95.33 L326.5,95.42 L326,95.51 L325.5,95.61 L325,95.7 L324.48,95.8 L323.97,95.9 L323.45,96.01 L322.94,96.11 L322.42,96.23 L321.91,96.34 L321.39,96.47 L320.88,96.6 L320.36,96.74 L319.85,96.89 L319.33,97.05 L318.82,97.22 L318.3,97.4 L317.79,97.61 L317.28,97.85 L316.77,98.12 L316.26,98.43 L315.74,98.76 L315.23,99.11 L314.72,99.48 L314.21,99.87 L313.7,100.28 L313.19,100.69 L312.68,101.11 L312.17,101.54 L311.66,101.97 L311.14,102.39 L310.63,102.81 L310.12,103.22 L309.61,103.62 L309.1,104 L308.59,104.38 L308.08,104.75 L307.57,105.13 L307.06,105.51 L306.54,105.89 L306.03,106.28 L305.52,106.66 L305.01,107.05 L304.5,107.43 L303.99,107.82 L303.48,108.2 L302.97,108.59 L302.46,108.97 L301.94,109.36 L301.43,109.75 L300.92,110.13 L300.41,110.52 L299.9,110.9 Z" fill="#cbcbcb"/>
<line x1="299.9" y1="111.4" x2="299.9" y2="35.84" stroke="#3a3a3a" stroke-width="1.3" stroke-dasharray="4.3,1.6"/>
<line x1="309.11" y1="111.4" x2="309.11" y2="49.94" stroke="#3a3a3a" stroke-width="1.3" stroke-dasharray="4.3,1.6"/>
<line x1="318.32" y1="111.4" x2="318.32" y2="64.26" stroke="#3a3a3a" stroke-width="1.3" stroke-dasharray="4.3,1.6"/>
<line x1="327.53" y1="111.4" x2="327.53" y2="153.67" stroke="#3a3a3a" stroke-width="1.3" stroke-dasharray="4.3,1.6"/>
<line x1="336.74" y1="111.4" x2="336.74" y2="141.95" stroke="#3a3a3a" stroke-width="1.3" stroke-dasharray="4.3,1.6"/>
<line x1="345.95" y1="111.4" x2="345.95" y2="145.85" stroke="#3a3a3a" stroke-width="1.3" stroke-dasharray="4.3,1.6"/>
<line x1="355.16" y1="111.4" x2="355.16" y2="141.51" stroke="#3a3a3a" stroke-width="1.3" stroke-dasharray="4.3,1.6"/>
<line x1="364.37" y1="111.4" x2="364.37" y2="142.82" stroke="#3a3a3a" stroke-width="1.3" stroke-dasharray="4.3,1.6"/>
<line x1="373.58" y1="111.4" x2="373.58" y2="94.21" stroke="#3a3a3a" stroke-width="1.3" stroke-dasharray="4.3,1.6"/>
<line x1="382.79" y1="111.4" x2="382.79" y2="130.23" stroke="#3a3a3a" stroke-width="1.3" stroke-dasharray="4.3,1.6"/>
<line x1="392" y1="111.4" x2="392" y2="125.46" stroke="#3a3a3a" stroke-width="1.3" stroke-dasharray="4.3,1.6"/>
<line x1="401.21" y1="111.4" x2="401.21" y2="121.12" stroke="#3a3a3a" stroke-width="1.3" stroke-dasharray="4.3,1.6"/>
<line x1="410.42" y1="111.4" x2="410.42" y2="102.24" stroke="#3a3a3a" stroke-width="1.3" stroke-dasharray="4.3,1.6"/>
<line x1="419.63" y1="111.4" x2="419.63" y2="122.2" stroke="#3a3a3a" stroke-width="1.3" stroke-dasharray="4.3,1.6"/>
<line x1="428.84" y1="111.4" x2="428.84" y2="125.89" stroke="#3a3a3a" stroke-width="1.3" stroke-dasharray="4.3,1.6"/>
<line x1="438.05" y1="111.4" x2="438.05" y2="107.49" stroke="#3a3a3a" stroke-width="1.3" stroke-dasharray="4.3,1.6"/>
<line x1="447.26" y1="111.4" x2="447.26" y2="118.51" stroke="#3a3a3a" stroke-width="1.3" stroke-dasharray="4.3,1.6"/>
<line x1="456.47" y1="111.4" x2="456.47" y2="113.3" stroke="#3a3a3a" stroke-width="1.3" stroke-dasharray="4.3,1.6"/>
<line x1="465.68" y1="111.4" x2="465.68" y2="113.3" stroke="#3a3a3a" stroke-width="1.3" stroke-dasharray="4.3,1.6"/>
<line x1="474.89" y1="111.4" x2="474.89" y2="109.18" stroke="#3a3a3a" stroke-width="1.3" stroke-dasharray="4.3,1.6"/>
<line x1="484.1" y1="111.4" x2="484.1" y2="110.7" stroke="#3a3a3a" stroke-width="1.3" stroke-dasharray="4.3,1.6"/>
<circle cx="299.9" cy="35.84" r="1.45" fill="#1a1a1a"/>
<circle cx="309.11" cy="49.94" r="1.45" fill="#1a1a1a"/>
<circle cx="318.32" cy="64.26" r="1.45" fill="#1a1a1a"/>
<circle cx="327.53" cy="153.67" r="1.45" fill="#1a1a1a"/>
<circle cx="336.74" cy="141.95" r="1.45" fill="#1a1a1a"/>
<circle cx="345.95" cy="145.85" r="1.45" fill="#1a1a1a"/>
<circle cx="355.16" cy="141.51" r="1.45" fill="#1a1a1a"/>
<circle cx="364.37" cy="142.82" r="1.45" fill="#1a1a1a"/>
<circle cx="373.58" cy="94.21" r="1.45" fill="#1a1a1a"/>
<circle cx="382.79" cy="130.23" r="1.45" fill="#1a1a1a"/>
<circle cx="392" cy="125.46" r="1.45" fill="#1a1a1a"/>
<circle cx="401.21" cy="121.12" r="1.45" fill="#1a1a1a"/>
<circle cx="410.42" cy="102.24" r="1.45" fill="#1a1a1a"/>
<circle cx="419.63" cy="122.2" r="1.45" fill="#1a1a1a"/>
<circle cx="428.84" cy="125.89" r="1.45" fill="#1a1a1a"/>
<circle cx="438.05" cy="107.49" r="1.45" fill="#1a1a1a"/>
<circle cx="447.26" cy="118.51" r="1.45" fill="#1a1a1a"/>
<circle cx="456.47" cy="113.3" r="1.45" fill="#1a1a1a"/>
<circle cx="465.68" cy="113.3" r="1.45" fill="#1a1a1a"/>
<circle cx="474.89" cy="109.18" r="1.45" fill="#1a1a1a"/>
<circle cx="484.1" cy="110.7" r="1.45" fill="#1a1a1a"/>
<line x1="295.7" y1="111.4" x2="487.95" y2="111.4" stroke="#1a1a1a" stroke-width="1.3"/>
<path d="M299.9,94.1 L309.11,94.1 L309.11,83.8 L318.32,83.8 L318.32,76.7 L327.53,76.7 L327.53,75 L336.74,75 L336.74,73.2 L345.95,73.2 L345.95,71.5 L355.16,71.5 L355.16,69.7 L364.37,69.7 L364.37,68.8 L373.58,68.8 L373.58,68.3 L382.79,68.3 L382.79,67.9 L392,67.9 L392,67.5 L401.21,67.5 L401.21,67.2 L410.42,67.2 L410.42,67 L419.63,67 L419.63,66.8 L428.84,66.8 L428.84,66.7 L438.05,66.7 L438.05,66.6 L447.26,66.6 L447.26,66.5 L456.47,66.5 L456.47,66.5 L465.68,66.5 L465.68,66.4 L474.89,66.4 L474.89,66.4 L484.1,66.4 L484.1,66.4 L484.1,66.4" fill="none" stroke="#1a1a1a" stroke-width="1.5" stroke-linejoin="miter" stroke-linecap="butt"/>
<rect x="295.7" y="19.35" width="192.25" height="139.8" fill="none" stroke="#1a1a1a" stroke-width="1.3"/>
<line x1="299.9" y1="159.15" x2="299.9" y2="162.75" stroke="#1a1a1a" stroke-width="1"/>
<line x1="309.11" y1="159.15" x2="309.11" y2="162.75" stroke="#1a1a1a" stroke-width="1"/>
<line x1="318.32" y1="159.15" x2="318.32" y2="162.75" stroke="#1a1a1a" stroke-width="1"/>
<line x1="327.53" y1="159.15" x2="327.53" y2="162.75" stroke="#1a1a1a" stroke-width="1"/>
<line x1="336.74" y1="159.15" x2="336.74" y2="162.75" stroke="#1a1a1a" stroke-width="1"/>
<line x1="345.95" y1="159.15" x2="345.95" y2="162.75" stroke="#1a1a1a" stroke-width="1"/>
<line x1="355.16" y1="159.15" x2="355.16" y2="162.75" stroke="#1a1a1a" stroke-width="1"/>
<line x1="364.37" y1="159.15" x2="364.37" y2="162.75" stroke="#1a1a1a" stroke-width="1"/>
<line x1="373.58" y1="159.15" x2="373.58" y2="162.75" stroke="#1a1a1a" stroke-width="1"/>
<line x1="382.79" y1="159.15" x2="382.79" y2="162.75" stroke="#1a1a1a" stroke-width="1"/>
<line x1="392" y1="159.15" x2="392" y2="162.75" stroke="#1a1a1a" stroke-width="1"/>
<line x1="401.21" y1="159.15" x2="401.21" y2="162.75" stroke="#1a1a1a" stroke-width="1"/>
<line x1="410.42" y1="159.15" x2="410.42" y2="162.75" stroke="#1a1a1a" stroke-width="1"/>
<line x1="419.63" y1="159.15" x2="419.63" y2="162.75" stroke="#1a1a1a" stroke-width="1"/>
<line x1="428.84" y1="159.15" x2="428.84" y2="162.75" stroke="#1a1a1a" stroke-width="1"/>
<line x1="438.05" y1="159.15" x2="438.05" y2="162.75" stroke="#1a1a1a" stroke-width="1"/>
<line x1="447.26" y1="159.15" x2="447.26" y2="162.75" stroke="#1a1a1a" stroke-width="1"/>
<line x1="456.47" y1="159.15" x2="456.47" y2="162.75" stroke="#1a1a1a" stroke-width="1"/>
<line x1="465.68" y1="159.15" x2="465.68" y2="162.75" stroke="#1a1a1a" stroke-width="1"/>
<line x1="474.89" y1="159.15" x2="474.89" y2="162.75" stroke="#1a1a1a" stroke-width="1"/>
<line x1="484.1" y1="159.15" x2="484.1" y2="162.75" stroke="#1a1a1a" stroke-width="1"/>
<line x1="487.95" y1="22.8" x2="490.95" y2="22.8" stroke="#1a1a1a" stroke-width="1"/>
<line x1="487.95" y1="67.1" x2="490.95" y2="67.1" stroke="#1a1a1a" stroke-width="1"/>
<line x1="487.95" y1="111.4" x2="490.95" y2="111.4" stroke="#1a1a1a" stroke-width="1"/>
<line x1="487.95" y1="155.7" x2="490.95" y2="155.7" stroke="#1a1a1a" stroke-width="1"/>
<text x="292.7" y="114.38" font-size="6.6" class="t" text-anchor="end" fill="#222">0.0</text>
<text x="292.7" y="92.38" font-size="6.6" class="t" text-anchor="end" fill="#222">0.1</text>
<text x="292.7" y="70.38" font-size="6.6" class="t" text-anchor="end" fill="#222">0.2</text>
<text x="292.7" y="48.38" font-size="6.6" class="t" text-anchor="end" fill="#222">0.3</text>
<text x="292.7" y="26.38" font-size="6.6" class="t" text-anchor="end" fill="#222">0.4</text>
<text x="493.6" y="25.18" font-size="6.6" class="t" fill="#222">20</text>
<text x="493.6" y="69.48" font-size="6.6" class="t" fill="#222">10</text>
<text x="493.6" y="113.78" font-size="6.6" class="t" fill="#222">0</text>
<text x="493.6" y="158.08" font-size="6.6" class="t" fill="#222">-10</text>
<text x="0" y="0" font-size="7.7" text-anchor="middle" class="t" fill="#222" transform="translate(277.6,89.2) rotate(-90) scale(1.0,1.12)">R-square</text>
<text x="0" y="0" font-size="7.7" text-anchor="middle" class="t" fill="#222" transform="translate(511.4,87.6) rotate(-90) scale(1.0,1.12)">Coefficients</text>
<text x="267.3" y="15.8" font-size="11" font-weight="bold" fill="#000">B</text>
<rect x="312.3" y="22.8" width="24" height="6.5" fill="#cbcbcb"/>
<text x="339" y="27.98" font-size="5.5" fill="#222">95%CI</text>
<line x1="368.1" y1="26" x2="381.9" y2="26" stroke="#1a1a1a" stroke-width="1.5"/>
<text x="385" y="27.98" font-size="5.5" fill="#222">R-square</text>
<line x1="420.9" y1="26" x2="431.2" y2="26" stroke="#3a3a3a" stroke-width="1" stroke-dasharray="5,1.1"/>
<circle cx="433.8" cy="26" r="1.5" fill="#1a1a1a"/>
<text x="438.1" y="27.98" font-size="5.5" fill="#222">Coefficient</text>
<text x="0" y="0" font-size="6.5" class="g" text-anchor="end" fill="#222" transform="translate(303,168.35) rotate(-45)">SETBP1</text>
<text x="0" y="0" font-size="6.5" class="g" text-anchor="end" fill="#222" transform="translate(312.21,168.35) rotate(-45)">RUNX1</text>
<text x="0" y="0" font-size="6.5" class="g" text-anchor="end" fill="#222" transform="translate(321.42,168.35) rotate(-45)">NRAS</text>
<text x="0" y="0" font-size="6.5" class="g" text-anchor="end" fill="#222" transform="translate(330.63,168.35) rotate(-45)">CUX1</text>
<text x="0" y="0" font-size="6.5" class="g" text-anchor="end" fill="#222" transform="translate(339.84,168.35) rotate(-45)">IDH2</text>
<text x="0" y="0" font-size="6.5" class="g" text-anchor="end" fill="#222" transform="translate(349.05,168.35) rotate(-45)">EZH2</text>
<text x="0" y="0" font-size="6.5" class="g" text-anchor="end" fill="#222" transform="translate(358.26,168.35) rotate(-45)">SF3B1</text>
<text x="0" y="0" font-size="6.5" class="g" text-anchor="end" fill="#222" transform="translate(367.47,168.35) rotate(-45)">ZRSR2</text>
<text x="0" y="0" font-size="6.5" class="g" text-anchor="end" fill="#222" transform="translate(376.68,168.35) rotate(-45)">JAK2</text>
<text x="0" y="0" font-size="6.5" class="g" text-anchor="end" fill="#222" transform="translate(385.89,168.35) rotate(-45)">ETNK1</text>
<text x="0" y="0" font-size="6.5" class="g" text-anchor="end" fill="#222" transform="translate(395.1,168.35) rotate(-45)">EP300</text>
<text x="0" y="0" font-size="6.5" class="g" text-anchor="end" fill="#222" transform="translate(404.31,168.35) rotate(-45)">CBL</text>
<text x="0" y="0" font-size="6.5" class="g" text-anchor="end" fill="#222" transform="translate(413.52,168.35) rotate(-45)">ASXL1</text>
<text x="0" y="0" font-size="6.5" class="g" text-anchor="end" fill="#222" transform="translate(422.73,168.35) rotate(-45)">NF1</text>
<text x="0" y="0" font-size="6.5" class="g" text-anchor="end" fill="#222" transform="translate(431.94,168.35) rotate(-45)">KIT</text>
<text x="0" y="0" font-size="6.5" class="g" text-anchor="end" fill="#222" transform="translate(441.15,168.35) rotate(-45)">TET2</text>
<text x="0" y="0" font-size="6.5" class="g" text-anchor="end" fill="#222" transform="translate(450.36,168.35) rotate(-45)">PTPN11</text>
<text x="0" y="0" font-size="6.5" class="g" text-anchor="end" fill="#222" transform="translate(459.57,168.35) rotate(-45)">SRSF2</text>
<text x="0" y="0" font-size="6.5" class="g" text-anchor="end" fill="#222" transform="translate(468.78,168.35) rotate(-45)">KRAS</text>
<text x="0" y="0" font-size="6.5" class="g" text-anchor="end" fill="#222" transform="translate(477.99,168.35) rotate(-45)">U2AF1</text>
<text x="0" y="0" font-size="6.5" class="g" text-anchor="end" fill="#222" transform="translate(487.2,168.35) rotate(-45)">CPSS Cytog</text>
<path d="M39.8,280 L40.32,279.17 L40.85,278.34 L41.38,277.5 L41.9,276.66 L42.42,275.83 L42.95,275.01 L43.48,274.2 L44,273.4 L44.51,272.64 L45.02,271.88 L45.53,271.13 L46.04,270.39 L46.56,269.66 L47.07,268.93 L47.58,268.22 L48.09,267.5 L48.6,266.8 L49.08,266.15 L49.55,265.49 L50.02,264.84 L50.5,264.2 L50.98,263.56 L51.45,262.95 L51.92,262.36 L52.4,261.8 L52.92,261.21 L53.43,260.62 L53.95,260.04 L54.46,259.46 L54.98,258.9 L55.49,258.35 L56.01,257.82 L56.52,257.3 L57.04,256.81 L57.55,256.34 L58.07,255.9 L58.58,255.48 L59.1,255.1 L59.61,254.74 L60.13,254.4 L60.64,254.07 L61.15,253.75 L61.67,253.45 L62.18,253.15 L62.69,252.87 L63.21,252.6 L63.72,252.33 L64.23,252.08 L64.75,251.83 L65.26,251.59 L65.77,251.35 L66.29,251.12 L66.8,250.9 L67.3,250.69 L67.79,250.48 L68.29,250.27 L68.79,250.06 L69.28,249.86 L69.78,249.66 L70.28,249.47 L70.77,249.27 L71.27,249.08 L71.77,248.9 L72.26,248.71 L72.76,248.53 L73.26,248.35 L73.75,248.18 L74.25,248 L74.75,247.83 L75.25,247.66 L75.74,247.5 L76.24,247.34 L76.74,247.18 L77.23,247.02 L77.73,246.87 L78.23,246.72 L78.72,246.57 L79.22,246.42 L79.72,246.28 L80.21,246.14 L80.71,246 L81.21,245.86 L81.7,245.73 L82.2,245.6 L82.69,245.47 L83.19,245.35 L83.68,245.22 L84.17,245.1 L84.67,244.98 L85.16,244.86 L85.65,244.74 L86.15,244.62 L86.64,244.51 L87.14,244.39 L87.63,244.28 L88.12,244.17 L88.62,244.06 L89.11,243.95 L89.6,243.85 L90.1,243.74 L90.59,243.64 L91.08,243.54 L91.58,243.44 L92.07,243.35 L92.56,243.25 L93.06,243.16 L93.55,243.07 L94.05,242.98 L94.54,242.89 L95.03,242.8 L95.53,242.72 L96.02,242.64 L96.51,242.55 L97.01,242.48 L97.5,242.4 L98,242.32 L98.5,242.25 L99,242.18 L99.5,242.1 L100,242.03 L100.5,241.96 L101,241.89 L101.5,241.83 L102,241.76 L102.5,241.7 L103,241.63 L103.5,241.57 L104,241.5 L104.5,241.44 L105,241.38 L105.5,241.32 L106,241.26 L106.5,241.2 L107,241.15 L107.5,241.09 L108,241.03 L108.5,240.98 L109,240.92 L109.5,240.87 L110,240.81 L110.5,240.76 L111,240.71 L111.5,240.66 L112,240.6 L112.5,240.55 L113,240.5 L113.5,240.45 L114,240.4 L114.5,240.35 L115,240.3 L115.5,240.25 L116,240.2 L116.5,240.15 L117,240.1 L117.5,240.06 L118,240.01 L118.5,239.97 L119,239.93 L119.5,239.88 L120,239.84 L120.5,239.8 L121,239.76 L121.5,239.72 L122,239.68 L122.5,239.64 L123,239.6 L123.5,239.56 L124,239.52 L124.5,239.48 L125,239.44 L125.5,239.4 L126,239.36 L126.5,239.32 L127,239.28 L127.5,239.23 L128,239.19 L128.5,239.14 L129,239.1 L129.5,239.05 L130,239 L130.5,238.95 L131,238.9 L131.5,238.84 L132,238.79 L132.5,238.73 L133,238.68 L133.5,238.62 L134,238.56 L134.5,238.5 L135,238.44 L135.5,238.38 L136,238.31 L136.5,238.25 L137,238.19 L137.5,238.12 L138,238.06 L138.5,237.99 L139,237.93 L139.5,237.86 L140,237.8 L140.5,237.73 L141,237.66 L141.5,237.6 L142,237.53 L142.5,237.47 L143,237.41 L143.5,237.34 L144,237.28 L144.5,237.22 L145,237.16 L145.5,237.1 L146,237.04 L146.5,236.98 L147,236.92 L147.5,236.86 L148,236.81 L148.5,236.75 L149,236.7 L149.5,236.65 L150,236.6 L150.5,236.55 L151,236.5 L151.5,236.46 L152,236.41 L152.5,236.36 L153,236.31 L153.5,236.27 L154,236.22 L154.5,236.17 L155,236.13 L155.5,236.08 L156,236.03 L156.5,235.99 L157,235.94 L157.5,235.9 L158,235.85 L158.5,235.81 L159,235.77 L159.5,235.72 L160,235.68 L160.5,235.63 L161,235.59 L161.5,235.55 L162,235.51 L162.5,235.46 L163,235.42 L163.5,235.38 L164,235.34 L164.5,235.3 L165,235.26 L165.5,235.22 L166,235.18 L166.5,235.14 L167,235.1 L167.5,235.06 L168,235.02 L168.5,234.98 L169,234.95 L169.5,234.91 L170,234.87 L170.5,234.83 L171,234.8 L171.5,234.76 L172,234.72 L172.5,234.69 L173,234.65 L173.5,234.62 L174,234.58 L174.5,234.55 L175,234.52 L175.5,234.48 L176,234.45 L176.5,234.42 L177,234.39 L177.5,234.35 L178,234.32 L178.5,234.29 L179,234.26 L179.5,234.23 L180,234.2 L180.5,234.17 L181,234.14 L181.5,234.11 L182,234.08 L182.5,234.05 L183,234.02 L183.5,233.99 L184,233.97 L184.5,233.94 L185,233.91 L185.5,233.88 L186,233.85 L186.5,233.82 L187,233.8 L187.5,233.77 L188,233.74 L188.5,233.71 L189,233.69 L189.5,233.66 L190,233.63 L190.5,233.61 L191,233.58 L191.5,233.55 L192,233.53 L192.5,233.5 L193,233.48 L193.5,233.46 L194,233.43 L194.5,233.41 L195,233.38 L195.5,233.36 L196,233.34 L196.5,233.32 L197,233.29 L197.5,233.27 L198,233.25 L198.5,233.23 L199,233.21 L199.5,233.19 L200,233.17 L200.5,233.15 L201,233.13 L201.5,233.11 L202,233.1 L202.5,233.08 L203,233.06 L203.5,233.05 L204,233.03 L204.5,233.01 L205,233 L205.5,232.99 L206,232.97 L206.5,232.96 L207,232.94 L207.5,232.93 L208,232.92 L208.5,232.91 L209,232.89 L209.5,232.88 L210,232.87 L210.5,232.86 L211,232.85 L211.5,232.84 L212,232.83 L212.5,232.81 L213,232.8 L213.5,232.79 L214,232.78 L214.5,232.77 L215,232.76 L215.5,232.75 L216,232.74 L216.5,232.74 L217,232.73 L217.5,232.72 L218,232.71 L218.5,232.7 L219,232.69 L219.5,232.68 L220,232.67 L220.5,232.66 L221,232.65 L221.5,232.64 L222,232.63 L222.5,232.62 L223,232.62 L223.5,232.61 L224,232.6 L224.5,232.59 L225,232.58 L225.5,232.57 L226,232.56 L226.5,232.55 L227,232.54 L227.5,232.53 L228,232.52 L228.5,232.51 L229,232.5 L229,274.6 L228.5,274.62 L228,274.64 L227.5,274.65 L227,274.67 L226.5,274.69 L226,274.71 L225.5,274.72 L225,274.74 L224.5,274.76 L224,274.77 L223.5,274.79 L223,274.81 L222.5,274.82 L222,274.84 L221.5,274.86 L221,274.87 L220.5,274.89 L220,274.9 L219.5,274.92 L219,274.94 L218.5,274.95 L218,274.97 L217.5,274.99 L217,275 L216.5,275.02 L216,275.03 L215.5,275.05 L215,275.07 L214.5,275.08 L214,275.1 L213.5,275.11 L213,275.13 L212.5,275.15 L212,275.16 L211.5,275.18 L211,275.2 L210.5,275.21 L210,275.23 L209.5,275.24 L209,275.26 L208.5,275.28 L208,275.29 L207.5,275.31 L207,275.33 L206.5,275.35 L206,275.36 L205.5,275.38 L205,275.4 L204.5,275.41 L204,275.43 L203.5,275.45 L203,275.47 L202.5,275.49 L202,275.5 L201.5,275.52 L201,275.54 L200.5,275.56 L200,275.58 L199.5,275.6 L199,275.62 L198.5,275.64 L198,275.66 L197.5,275.68 L197,275.7 L196.5,275.72 L196,275.74 L195.5,275.76 L195,275.78 L194.5,275.8 L194,275.82 L193.5,275.84 L193,275.86 L192.5,275.89 L192,275.91 L191.5,275.93 L191,275.95 L190.5,275.98 L190,276 L189.5,276.02 L189,276.05 L188.5,276.07 L188,276.1 L187.5,276.12 L187,276.15 L186.5,276.18 L186,276.2 L185.5,276.23 L185,276.26 L184.5,276.29 L184,276.32 L183.5,276.35 L183,276.37 L182.5,276.4 L182,276.43 L181.5,276.47 L181,276.5 L180.5,276.53 L180,276.56 L179.5,276.59 L179,276.62 L178.5,276.66 L178,276.69 L177.5,276.72 L177,276.75 L176.5,276.79 L176,276.82 L175.5,276.86 L175,276.89 L174.5,276.93 L174,276.96 L173.5,277 L173,277.03 L172.5,277.07 L172,277.1 L171.5,277.14 L171,277.17 L170.5,277.21 L170,277.25 L169.5,277.28 L169,277.32 L168.5,277.36 L168,277.39 L167.5,277.43 L167,277.47 L166.5,277.51 L166,277.54 L165.5,277.58 L165,277.62 L164.5,277.66 L164,277.69 L163.5,277.73 L163,277.77 L162.5,277.81 L162,277.85 L161.5,277.89 L161,277.92 L160.5,277.96 L160,278 L159.5,278.04 L159,278.08 L158.5,278.12 L158,278.16 L157.5,278.19 L157,278.23 L156.5,278.27 L156,278.32 L155.5,278.36 L155,278.4 L154.5,278.44 L154,278.48 L153.5,278.52 L153,278.57 L152.5,278.61 L152,278.65 L151.5,278.7 L151,278.74 L150.5,278.78 L150,278.83 L149.5,278.87 L149,278.92 L148.5,278.97 L148,279.01 L147.5,279.06 L147,279.11 L146.5,279.15 L146,279.2 L145.5,279.25 L145,279.3 L144.5,279.35 L144,279.4 L143.5,279.45 L143,279.51 L142.5,279.56 L142,279.62 L141.5,279.68 L141,279.73 L140.5,279.79 L140,279.85 L139.5,279.91 L139,279.97 L138.5,280.03 L138,280.08 L137.5,280.14 L137,280.2 L136.5,280.26 L136,280.32 L135.5,280.38 L135,280.43 L134.5,280.49 L134,280.55 L133.5,280.6 L132.99,280.65 L132.48,280.71 L131.97,280.76 L131.46,280.81 L130.95,280.86 L130.44,280.91 L129.93,280.96 L129.42,281.01 L128.91,281.06 L128.39,281.11 L127.88,281.16 L127.37,281.21 L126.86,281.26 L126.35,281.31 L125.84,281.37 L125.33,281.42 L124.82,281.48 L124.31,281.54 L123.8,281.6 L123.29,281.66 L122.79,281.73 L122.28,281.79 L121.78,281.86 L121.27,281.93 L120.77,282.01 L120.26,282.08 L119.76,282.16 L119.25,282.23 L118.75,282.31 L118.24,282.39 L117.74,282.46 L117.23,282.54 L116.73,282.62 L116.22,282.7 L115.72,282.77 L115.21,282.85 L114.71,282.93 L114.2,283 L113.69,283.07 L113.19,283.15 L112.68,283.22 L112.18,283.3 L111.67,283.37 L111.17,283.45 L110.66,283.53 L110.16,283.6 L109.65,283.68 L109.15,283.75 L108.64,283.83 L108.14,283.9 L107.63,283.97 L107.13,284.05 L106.62,284.12 L106.12,284.19 L105.61,284.26 L105.11,284.33 L104.6,284.4 L104.09,284.47 L103.59,284.53 L103.08,284.59 L102.58,284.65 L102.07,284.71 L101.57,284.77 L101.06,284.83 L100.56,284.88 L100.05,284.94 L99.55,285 L99.04,285.05 L98.54,285.11 L98.03,285.18 L97.53,285.24 L97.02,285.3 L96.52,285.37 L96.01,285.45 L95.51,285.52 L95,285.6 L94.5,285.68 L94.01,285.77 L93.51,285.87 L93.02,285.97 L92.52,286.07 L92.03,286.18 L91.53,286.29 L91.03,286.41 L90.54,286.53 L90.04,286.65 L89.55,286.78 L89.05,286.9 L88.55,287.03 L88.06,287.16 L87.56,287.29 L87.07,287.42 L86.57,287.54 L86.07,287.67 L85.58,287.8 L85.08,287.92 L84.59,288.05 L84.09,288.17 L83.6,288.29 L83.1,288.4 L82.59,288.52 L82.07,288.63 L81.56,288.75 L81.05,288.86 L80.53,288.97 L80.02,289.09 L79.51,289.2 L78.99,289.31 L78.48,289.42 L77.97,289.54 L77.45,289.65 L76.94,289.76 L76.43,289.87 L75.91,289.99 L75.4,290.1 L74.89,290.21 L74.37,290.32 L73.86,290.42 L73.35,290.52 L72.83,290.62 L72.32,290.72 L71.81,290.82 L71.29,290.93 L70.78,291.04 L70.27,291.15 L69.75,291.26 L69.24,291.38 L68.73,291.51 L68.21,291.65 L67.7,291.8 L67.19,291.96 L66.67,292.14 L66.16,292.32 L65.65,292.53 L65.13,292.74 L64.62,292.96 L64.11,293.2 L63.59,293.44 L63.08,293.69 L62.57,293.95 L62.05,294.21 L61.54,294.48 L61.03,294.75 L60.51,295.02 L60,295.3 L59.5,295.58 L59,295.88 L58.5,296.19 L58,296.51 L57.5,296.84 L57,297.17 L56.5,297.51 L56,297.84 L55.5,298.18 L55,298.5 L54.5,298.82 L54,299.15 L53.5,299.48 L53,299.81 L52.5,300.14 L52,300.46 L51.5,300.78 L51,301.1 L50.5,301.41 L50,301.71 L49.5,302 L49,302.28 L48.5,302.54 L48,302.8 L47.5,303.05 L47,303.3 L46.5,303.54 L46,303.78 L45.5,304.02 L45,304.27 L44.5,304.51 L44,304.77 L43.5,305.03 L43,305.3 L42.47,305.6 L41.93,305.91 L41.4,306.23 L40.87,306.56 L40.33,306.88 L39.8,307.2 Z" fill="#cbcbcb"/>
<line x1="39.85" y1="307.4" x2="39.85" y2="269.53" stroke="#3a3a3a" stroke-width="1.3" stroke-dasharray="4.3,1.6"/>
<line x1="49.33" y1="307.4" x2="49.33" y2="221.9" stroke="#3a3a3a" stroke-width="1.3" stroke-dasharray="4.3,1.6"/>
<line x1="58.8" y1="307.4" x2="58.8" y2="264.26" stroke="#3a3a3a" stroke-width="1.3" stroke-dasharray="4.3,1.6"/>
<line x1="68.28" y1="307.4" x2="68.28" y2="248.24" stroke="#3a3a3a" stroke-width="1.3" stroke-dasharray="4.3,1.6"/>
<line x1="77.75" y1="307.4" x2="77.75" y2="330.77" stroke="#3a3a3a" stroke-width="1.3" stroke-dasharray="4.3,1.6"/>
<line x1="87.22" y1="307.4" x2="87.22" y2="267.11" stroke="#3a3a3a" stroke-width="1.3" stroke-dasharray="4.3,1.6"/>
<line x1="96.7" y1="307.4" x2="96.7" y2="264.92" stroke="#3a3a3a" stroke-width="1.3" stroke-dasharray="4.3,1.6"/>
<line x1="106.18" y1="307.4" x2="106.18" y2="255.7" stroke="#3a3a3a" stroke-width="1.3" stroke-dasharray="4.3,1.6"/>
<line x1="115.65" y1="307.4" x2="115.65" y2="350.52" stroke="#3a3a3a" stroke-width="1.3" stroke-dasharray="4.3,1.6"/>
<line x1="125.12" y1="307.4" x2="125.12" y2="284.45" stroke="#3a3a3a" stroke-width="1.3" stroke-dasharray="4.3,1.6"/>
<line x1="134.6" y1="307.4" x2="134.6" y2="265.36" stroke="#3a3a3a" stroke-width="1.3" stroke-dasharray="4.3,1.6"/>
<line x1="144.07" y1="307.4" x2="144.07" y2="255.04" stroke="#3a3a3a" stroke-width="1.3" stroke-dasharray="4.3,1.6"/>
<line x1="153.55" y1="307.4" x2="153.55" y2="340.64" stroke="#3a3a3a" stroke-width="1.3" stroke-dasharray="4.3,1.6"/>
<line x1="163.03" y1="307.4" x2="163.03" y2="332.52" stroke="#3a3a3a" stroke-width="1.3" stroke-dasharray="4.3,1.6"/>
<line x1="172.5" y1="307.4" x2="172.5" y2="325.72" stroke="#3a3a3a" stroke-width="1.3" stroke-dasharray="4.3,1.6"/>
<line x1="181.97" y1="307.4" x2="181.97" y2="314.08" stroke="#3a3a3a" stroke-width="1.3" stroke-dasharray="4.3,1.6"/>
<line x1="191.45" y1="307.4" x2="191.45" y2="328.57" stroke="#3a3a3a" stroke-width="1.3" stroke-dasharray="4.3,1.6"/>
<line x1="200.92" y1="307.4" x2="200.92" y2="325.06" stroke="#3a3a3a" stroke-width="1.3" stroke-dasharray="4.3,1.6"/>
<line x1="210.4" y1="307.4" x2="210.4" y2="325.28" stroke="#3a3a3a" stroke-width="1.3" stroke-dasharray="4.3,1.6"/>
<line x1="219.88" y1="307.4" x2="219.88" y2="285.55" stroke="#3a3a3a" stroke-width="1.3" stroke-dasharray="4.3,1.6"/>
<line x1="229.35" y1="307.4" x2="229.35" y2="315.18" stroke="#3a3a3a" stroke-width="1.3" stroke-dasharray="4.3,1.6"/>
<circle cx="39.85" cy="269.53" r="1.45" fill="#1a1a1a"/>
<circle cx="49.33" cy="221.9" r="1.45" fill="#1a1a1a"/>
<circle cx="58.8" cy="264.26" r="1.45" fill="#1a1a1a"/>
<circle cx="68.28" cy="248.24" r="1.45" fill="#1a1a1a"/>
<circle cx="77.75" cy="330.77" r="1.45" fill="#1a1a1a"/>
<circle cx="87.22" cy="267.11" r="1.45" fill="#1a1a1a"/>
<circle cx="96.7" cy="264.92" r="1.45" fill="#1a1a1a"/>
<circle cx="106.18" cy="255.7" r="1.45" fill="#1a1a1a"/>
<circle cx="115.65" cy="350.52" r="1.45" fill="#1a1a1a"/>
<circle cx="125.12" cy="284.45" r="1.45" fill="#1a1a1a"/>
<circle cx="134.6" cy="265.36" r="1.45" fill="#1a1a1a"/>
<circle cx="144.07" cy="255.04" r="1.45" fill="#1a1a1a"/>
<circle cx="153.55" cy="340.64" r="1.45" fill="#1a1a1a"/>
<circle cx="163.03" cy="332.52" r="1.45" fill="#1a1a1a"/>
<circle cx="172.5" cy="325.72" r="1.45" fill="#1a1a1a"/>
<circle cx="181.97" cy="314.08" r="1.45" fill="#1a1a1a"/>
<circle cx="191.45" cy="328.57" r="1.45" fill="#1a1a1a"/>
<circle cx="200.92" cy="325.06" r="1.45" fill="#1a1a1a"/>
<circle cx="210.4" cy="325.28" r="1.45" fill="#1a1a1a"/>
<circle cx="219.88" cy="285.55" r="1.45" fill="#1a1a1a"/>
<circle cx="229.35" cy="315.18" r="1.45" fill="#1a1a1a"/>
<line x1="35.8" y1="307.4" x2="233.3" y2="307.4" stroke="#1a1a1a" stroke-width="1.3"/>
<path d="M39.85,307.4 L39.85,293.8 L49.33,293.8 L49.33,283.3 L58.8,283.3 L58.8,275.5 L68.28,275.5 L68.28,271.3 L77.75,271.3 L77.75,269.2 L87.22,269.2 L87.22,267.4 L96.7,267.4 L96.7,265.2 L106.18,265.2 L106.18,263.2 L115.65,263.2 L115.65,261.8 L125.12,261.8 L125.12,260.3 L134.6,260.3 L134.6,259 L144.07,259 L144.07,257.8 L153.55,257.8 L153.55,256.9 L163.03,256.9 L163.03,256.2 L172.5,256.2 L172.5,255.6 L181.97,255.6 L181.97,255 L191.45,255 L191.45,254.6 L200.92,254.6 L200.92,254.3 L210.4,254.3 L210.4,254 L219.88,254 L219.88,253.8 L229.35,253.8 L229.35,253.7 L229.35,253.7" fill="none" stroke="#1a1a1a" stroke-width="1.5" stroke-linejoin="miter" stroke-linecap="butt"/>
<rect x="35.8" y="214.5" width="197.5" height="141.7" fill="none" stroke="#1a1a1a" stroke-width="1.3"/>
<line x1="39.85" y1="356.2" x2="39.85" y2="359.8" stroke="#1a1a1a" stroke-width="1"/>
<line x1="49.33" y1="356.2" x2="49.33" y2="359.8" stroke="#1a1a1a" stroke-width="1"/>
<line x1="58.8" y1="356.2" x2="58.8" y2="359.8" stroke="#1a1a1a" stroke-width="1"/>
<line x1="68.28" y1="356.2" x2="68.28" y2="359.8" stroke="#1a1a1a" stroke-width="1"/>
<line x1="77.75" y1="356.2" x2="77.75" y2="359.8" stroke="#1a1a1a" stroke-width="1"/>
<line x1="87.22" y1="356.2" x2="87.22" y2="359.8" stroke="#1a1a1a" stroke-width="1"/>
<line x1="96.7" y1="356.2" x2="96.7" y2="359.8" stroke="#1a1a1a" stroke-width="1"/>
<line x1="106.18" y1="356.2" x2="106.18" y2="359.8" stroke="#1a1a1a" stroke-width="1"/>
<line x1="115.65" y1="356.2" x2="115.65" y2="359.8" stroke="#1a1a1a" stroke-width="1"/>
<line x1="125.12" y1="356.2" x2="125.12" y2="359.8" stroke="#1a1a1a" stroke-width="1"/>
<line x1="134.6" y1="356.2" x2="134.6" y2="359.8" stroke="#1a1a1a" stroke-width="1"/>
<line x1="144.07" y1="356.2" x2="144.07" y2="359.8" stroke="#1a1a1a" stroke-width="1"/>
<line x1="153.55" y1="356.2" x2="153.55" y2="359.8" stroke="#1a1a1a" stroke-width="1"/>
<line x1="163.03" y1="356.2" x2="163.03" y2="359.8" stroke="#1a1a1a" stroke-width="1"/>
<line x1="172.5" y1="356.2" x2="172.5" y2="359.8" stroke="#1a1a1a" stroke-width="1"/>
<line x1="181.97" y1="356.2" x2="181.97" y2="359.8" stroke="#1a1a1a" stroke-width="1"/>
<line x1="191.45" y1="356.2" x2="191.45" y2="359.8" stroke="#1a1a1a" stroke-width="1"/>
<line x1="200.92" y1="356.2" x2="200.92" y2="359.8" stroke="#1a1a1a" stroke-width="1"/>
<line x1="210.4" y1="356.2" x2="210.4" y2="359.8" stroke="#1a1a1a" stroke-width="1"/>
<line x1="219.88" y1="356.2" x2="219.88" y2="359.8" stroke="#1a1a1a" stroke-width="1"/>
<line x1="229.35" y1="356.2" x2="229.35" y2="359.8" stroke="#1a1a1a" stroke-width="1"/>
<line x1="233.3" y1="218.4" x2="236.3" y2="218.4" stroke="#1a1a1a" stroke-width="1"/>
<line x1="233.3" y1="263" x2="236.3" y2="263" stroke="#1a1a1a" stroke-width="1"/>
<line x1="233.3" y1="307.6" x2="236.3" y2="307.6" stroke="#1a1a1a" stroke-width="1"/>
<line x1="233.3" y1="352.2" x2="236.3" y2="352.2" stroke="#1a1a1a" stroke-width="1"/>
<text x="32.8" y="310.08" font-size="6.6" class="t" text-anchor="end" fill="#222">0.0</text>
<text x="32.8" y="288.13" font-size="6.6" class="t" text-anchor="end" fill="#222">0.1</text>
<text x="32.8" y="266.18" font-size="6.6" class="t" text-anchor="end" fill="#222">0.2</text>
<text x="32.8" y="244.23" font-size="6.6" class="t" text-anchor="end" fill="#222">0.3</text>
<text x="32.8" y="222.28" font-size="6.6" class="t" text-anchor="end" fill="#222">0.4</text>
<text x="239" y="220.98" font-size="6.6" class="t" fill="#222">4</text>
<text x="239" y="265.58" font-size="6.6" class="t" fill="#222">2</text>
<text x="239" y="310.18" font-size="6.6" class="t" fill="#222">0</text>
<text x="239" y="354.78" font-size="6.6" class="t" fill="#222">-2</text>
<text x="0" y="0" font-size="7.7" text-anchor="middle" class="t" fill="#222" transform="translate(17.6,285.2) rotate(-90) scale(1.0,1.12)">R-square</text>
<text x="0" y="0" font-size="7.7" text-anchor="middle" class="t" fill="#222" transform="translate(253.9,285.8) rotate(-90) scale(1.0,1.12)">Coefficients</text>
<text x="6.3" y="210.8" font-size="11" font-weight="bold" fill="#000">C</text>
<rect x="66.8" y="219" width="24" height="6.5" fill="#cbcbcb"/>
<text x="93.7" y="224.18" font-size="5.5" fill="#222">95%CI</text>
<line x1="123.1" y1="222.2" x2="136.9" y2="222.2" stroke="#1a1a1a" stroke-width="1.5"/>
<text x="140" y="224.18" font-size="5.5" fill="#222">R-square</text>
<line x1="176.8" y1="222.2" x2="187.1" y2="222.2" stroke="#3a3a3a" stroke-width="1" stroke-dasharray="5,1.1"/>
<circle cx="189.7" cy="222.2" r="1.5" fill="#1a1a1a"/>
<text x="193.7" y="224.18" font-size="5.5" fill="#222">Coefficient</text>
<text x="0" y="0" font-size="6.7" class="g" text-anchor="end" fill="#222" transform="translate(43.05,364.6) rotate(-45)">CPSS-Cytog</text>
<text x="0" y="0" font-size="6.7" class="g" text-anchor="end" fill="#222" transform="translate(52.53,364.6) rotate(-45)">RUNX1</text>
<text x="0" y="0" font-size="6.7" class="g" text-anchor="end" fill="#222" transform="translate(62,364.6) rotate(-45)">NF1</text>
<text x="0" y="0" font-size="6.7" class="g" text-anchor="end" fill="#222" transform="translate(71.48,364.6) rotate(-45)">IDH2</text>
<text x="0" y="0" font-size="6.7" class="g" text-anchor="end" fill="#222" transform="translate(80.95,364.6) rotate(-45)">SRSF2</text>
<text x="0" y="0" font-size="6.7" class="g" text-anchor="end" fill="#222" transform="translate(90.42,364.6) rotate(-45)">SETBP1</text>
<text x="0" y="0" font-size="6.7" class="g" text-anchor="end" fill="#222" transform="translate(99.9,364.6) rotate(-45)">EP300</text>
<text x="0" y="0" font-size="6.7" class="g" text-anchor="end" fill="#222" transform="translate(109.38,364.6) rotate(-45)">ETNK1</text>
<text x="0" y="0" font-size="6.7" class="g" text-anchor="end" fill="#222" transform="translate(118.85,364.6) rotate(-45)">EZH2</text>
<text x="0" y="0" font-size="6.7" class="g" text-anchor="end" fill="#222" transform="translate(128.32,364.6) rotate(-45)">NRAS</text>
<text x="0" y="0" font-size="6.7" class="g" text-anchor="end" fill="#222" transform="translate(137.8,364.6) rotate(-45)">U2AF1</text>
<text x="0" y="0" font-size="6.7" class="g" text-anchor="end" fill="#222" transform="translate(147.27,364.6) rotate(-45)">KIT</text>
<text x="0" y="0" font-size="6.7" class="g" text-anchor="end" fill="#222" transform="translate(156.75,364.6) rotate(-45)">CUX1</text>
<text x="0" y="0" font-size="6.7" class="g" text-anchor="end" fill="#222" transform="translate(166.22,364.6) rotate(-45)">KRAS</text>
<text x="0" y="0" font-size="6.7" class="g" text-anchor="end" fill="#222" transform="translate(175.7,364.6) rotate(-45)">CBL</text>
<text x="0" y="0" font-size="6.7" class="g" text-anchor="end" fill="#222" transform="translate(185.17,364.6) rotate(-45)">TET2</text>
<text x="0" y="0" font-size="6.7" class="g" text-anchor="end" fill="#222" transform="translate(194.65,364.6) rotate(-45)">ZRSR2</text>
<text x="0" y="0" font-size="6.7" class="g" text-anchor="end" fill="#222" transform="translate(204.12,364.6) rotate(-45)">SF3B1</text>
<text x="0" y="0" font-size="6.7" class="g" text-anchor="end" fill="#222" transform="translate(213.6,364.6) rotate(-45)">JAK2</text>
<text x="0" y="0" font-size="6.7" class="g" text-anchor="end" fill="#222" transform="translate(223.07,364.6) rotate(-45)">PTPN11</text>
<text x="0" y="0" font-size="6.7" class="g" text-anchor="end" fill="#222" transform="translate(232.55,364.6) rotate(-45)">ASXL1</text>
<rect x="0.5" y="0.5" width="519" height="396" fill="none" stroke="#111" stroke-width="1"/>
</svg>
</body></html>
